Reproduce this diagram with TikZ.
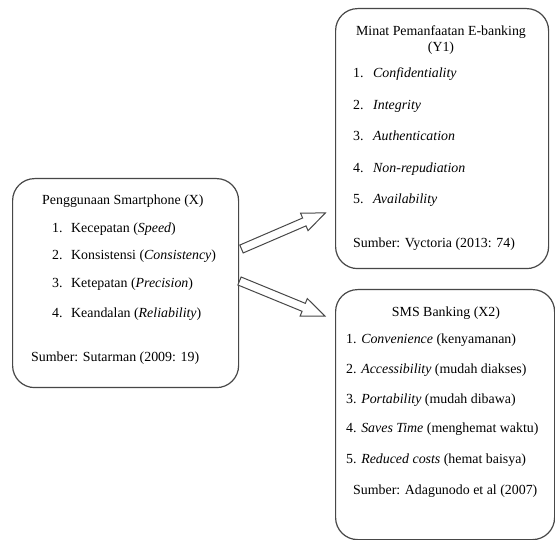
\documentclass[tikz,border=0pt]{standalone}
\usepackage{fontspec}
\setmainfont{Liberation Serif}
\begin{document}
\begin{tikzpicture}[x=1pt,y=-1pt,
  every node/.style={font=\fontsize{13.9}{15}\selectfont, text=black},
  box/.style={draw=black!72, line width=1.2pt, rounded corners=22pt, rectangle, anchor=north west, inner sep=0pt},
  txt/.style={anchor=base west, inner sep=0pt},
  ctxt/.style={anchor=base, inner sep=0pt},
  blockarrow/.pic={\draw[draw=black!72, line width=1pt, fill=white, line join=miter]
     (0,-4.3) -- (#1-23,-4.3) -- (#1-23,-9.5) -- (#1,0) -- (#1-23,9.5) -- (#1-23,4.3) -- (0,4.3) -- cycle;}
]
\useasboundingbox (0,0) rectangle (555,540);
\fill[white] (0,0) rectangle (555,540);

% boxes
\node[box, minimum width=226pt, minimum height=209pt] (bx) at (12,178) {};
\node[box, minimum width=213pt, minimum height=260pt] (by1) at (335,8) {};
\node[box, minimum width=219pt, minimum height=250pt] (bx2) at (335,289) {};

% left box text
\node[txt] (xt) at (42,205) {Penggunaan Smartphone (X)};
\node[txt] (x1n) at (52,233) {1.};
\node[txt] (x1) at (71,233) {Kecepatan (\textit{Speed})};
\node[txt] (x2n) at (52,260) {2.};
\node[txt] (x2) at (71,260) {Konsistensi (\textit{Consistency})};
\node[txt] (x3n) at (52,288) {3.};
\node[txt] (x3) at (71,288) {Ketepatan (\textit{Precision})};
\node[txt] (x4n) at (52,318) {4.};
\node[txt] (x4) at (71,318) {Keandalan (\textit{Reliability})};
\node[txt] (xs) at (31,362) {Sumber: Sutarman (2009: 19)};

% top right box text
\node[ctxt] (yt1) at (441,36) {Minat Pemanfaatan E-banking};
\node[ctxt] (yt2) at (441,52) {(Y1)};
\node[txt] (y1n) at (353,78) {1.};
\node[txt] (y1) at (373,78) {\textit{Confidentiality}};
\node[txt] (y2n) at (353,110) {2.};
\node[txt] (y2) at (373,110) {\textit{Integrity}};
\node[txt] (y3n) at (353,141) {3.};
\node[txt] (y3) at (373,141) {\textit{Authentication}};
\node[txt] (y4n) at (353,173) {4.};
\node[txt] (y4) at (373,173) {\textit{Non-repudiation}};
\node[txt] (y5n) at (353,204) {5.};
\node[txt] (y5) at (373,204) {\textit{Availability}};
\node[txt] (ys) at (353,248) {Sumber: Vyctoria (2013: 74)};

% bottom right box text
\node[ctxt] (zt) at (446,317) {SMS Banking (X2)};
\node[txt] (z1) at (346,344) {1. \textit{Convenience} (kenyamanan)};
\node[txt] (z2) at (346,374) {2. \textit{Accessibility} (mudah diakses)};
\node[txt] (z3) at (346,404) {3. \textit{Portability} (mudah dibawa)};
\node[txt] (z4) at (346,433) {4. \textit{Saves Time} (menghemat waktu)};
\node[txt] (z5) at (346,464) {5. \textit{Reduced costs} (hemat baisya)};
\node[txt] (zs) at (353,494) {Sumber: Adagunodo et al (2007)};

% block arrows
\coordinate (a1s) at (241.5,249);
\coordinate (a2s) at (239.5,281);
\pic[rotate=23.3] at (a1s) {blockarrow=91.4};
\pic[rotate=-22.3] at (a2s) {blockarrow=92.4};
\end{tikzpicture}
\end{document}
